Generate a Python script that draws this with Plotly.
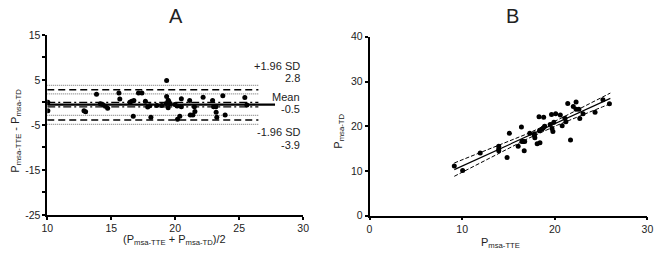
import numpy as np
import plotly.graph_objects as go

# ---------------- Data ----------------
# Panel A (Bland-Altman): mean of methods vs difference
mean_pairs = [10.05, 10.05, 12.87, 13.0, 13.85, 14.15, 14.33, 14.54, 14.72, 15.6,
              15.67, 16.46, 16.6, 16.77, 16.72, 17.13, 17.4, 17.67, 17.85, 18.02,
              18.1, 18.56, 18.95, 19.33, 19.33, 19.3, 19.45, 19.5, 19.6, 19.45,
              19.97, 20.15, 20.18, 20.36, 20.48, 20.48, 21.13, 21.18, 21.38, 21.54,
              21.5, 22.18, 22.92, 23.0, 23.18, 23.2, 23.25, 23.72, 23.9, 25.44, 25.6]
diff_pairs = [0.04, -1.87, -1.87, -2.1, 1.8, -0.32, -0.45, -0.87, -1.3, 2.1,
              0.74, 0.04, 0.25, 0.4, -3.1, 2.1, 2.1, 0.25, -1.0, -0.75,
              -3.3, -0.67, -0.67, 4.84, 1.3, -0.24, 0.5, 0.2, -0.3, -1.2,
              -0.45, -0.8, -3.76, -3.06, 0.82, -0.96, 0.45, -2.78, -2.78, -2.0,
              -0.96, 1.16, 0.45, -0.96, -0.96, -2.2, -3.3, 1.46, -2.78, 1.1, -0.6]

mean_diff = -0.5
upper_loa = 2.8
lower_loa = -3.9
mean_ci = [0.0, -1.0]
upper_loa_ci = [3.8, 1.9]
lower_loa_ci = [-2.9, -4.9]
ref_line_x = [10, 26.5]
mean_line_x = [10, 27.8]

# Panel B (correlation): TTE vs TD
p_tte = [9.15, 10.05, 11.95, 13.95, 13.95, 13.95, 14.85, 15.1, 16.05, 16.4,
         16.45, 16.6, 16.75, 16.7, 17.3, 17.8, 17.8, 17.85, 18.1, 18.4,
         18.3, 18.8, 18.35, 18.6, 18.75, 18.9, 19.65, 20.1, 19.5, 19.7,
         19.8, 19.9, 20.6, 20.8, 21.1, 21.2, 21.4, 21.7, 22.0, 22.3,
         22.3, 22.6, 22.7, 23.05, 24.35, 25.2, 25.9]
p_td = [11.1, 10.1, 14.0, 15.5, 14.9, 14.5, 13.0, 18.4, 15.5, 19.8,
        16.6, 16.6, 16.6, 14.5, 18.4, 18.3, 17.9, 17.4, 16.1, 16.3,
        22.1, 22.0, 19.0, 19.3, 19.6, 20.0, 22.6, 22.8, 20.4, 19.5,
        18.8, 20.9, 22.5, 20.1, 21.8, 21.0, 25.1, 16.9, 24.4, 25.4,
        23.8, 23.8, 21.7, 22.8, 23.1, 25.9, 25.0]

a_yticks = [15, 10, 5, 0, -5, -10, -15, -20, -25]
a_yticktext = ["15", "", "5", "", "-5", "", "-15", "", "-25"]
a_xticks = [10, 15, 20, 25, 30]
b_xticks = [0, 10, 20, 30]
b_yticks = [0, 10, 20, 30, 40]

# ---------------- Regression for panel B ----------------
xb = np.array(p_tte)
yb = np.array(p_td)
n = len(xb)
slope, intercept = np.polyfit(xb, yb, 1)
resid = yb - (slope * xb + intercept)
s = np.sqrt(np.sum(resid ** 2) / (n - 2))
sxx = np.sum((xb - xb.mean()) ** 2)
xfit = np.linspace(xb.min(), xb.max() + 0.1, 60)
yfit = slope * xfit + intercept
half = 2.01 * s * np.sqrt(1.0 / n + (xfit - xb.mean()) ** 2 / sxx)

FONT = "Liberation Sans, Arial, sans-serif"
fig = go.Figure()

def hline(y, x, dash, color="black", width=1.5, xa="x", ya="y"):
    fig.add_trace(go.Scatter(x=x, y=[y, y], mode="lines", xaxis=xa, yaxis=ya,
                             line=dict(color=color, width=width, dash=dash),
                             hoverinfo="skip", showlegend=False))

# Panel A lines
for v in upper_loa_ci + lower_loa_ci:
    hline(v, ref_line_x, "1px,1px", color="#8a8a8a", width=1.3)
for v in [upper_loa, lower_loa]:
    hline(v, ref_line_x, "7px,4px", width=1.6)
for v in mean_ci:
    hline(v, ref_line_x, "8px,3px,2px,3px", width=1.3)
hline(mean_diff, mean_line_x, "solid", width=2.2)

fig.add_trace(go.Scatter(x=mean_pairs, y=diff_pairs, mode="markers", xaxis="x", yaxis="y",
                         marker=dict(color="black", size=5), showlegend=False))

# Panel B lines and points
fig.add_trace(go.Scatter(x=xfit, y=yfit + half, mode="lines", xaxis="x2", yaxis="y2",
                         line=dict(color="black", width=1, dash="4px,2px"), showlegend=False))
fig.add_trace(go.Scatter(x=xfit, y=yfit - half, mode="lines", xaxis="x2", yaxis="y2",
                         line=dict(color="black", width=1, dash="4px,2px"), showlegend=False))
fig.add_trace(go.Scatter(x=xfit, y=yfit, mode="lines", xaxis="x2", yaxis="y2",
                         line=dict(color="black", width=1.2), showlegend=False))
fig.add_trace(go.Scatter(x=p_tte, y=p_td, mode="markers", xaxis="x2", yaxis="y2",
                         marker=dict(color="black", size=5), showlegend=False))

W, H = 658, 255
def px(xp):
    return xp / W
def py(yp):
    return 1 - yp / H

axis_common = dict(showgrid=False, zeroline=False, showline=True, linecolor="black",
                   linewidth=1.5, ticks="outside", ticklen=3, tickwidth=1.5, tickcolor="black",
                   tickfont=dict(family=FONT, size=10.5, color="#222"))

fig.update_layout(
    width=W, height=H, margin=dict(l=0, r=0, t=0, b=0),
    plot_bgcolor="white", paper_bgcolor="white", showlegend=False,
    xaxis=dict(domain=[px(42), px(302.7)], range=[10, 30], tickvals=a_xticks,
               anchor="y", **axis_common),
    yaxis=dict(domain=[py(219.3), py(30.3)], range=[-25, 15], tickvals=a_yticks,
               ticktext=a_yticktext, anchor="x", **axis_common),
    xaxis2=dict(domain=[px(370.3), px(653.3)], range=[0, 30], tickvals=b_xticks,
                anchor="y2", **axis_common),
    yaxis2=dict(domain=[py(220), py(32.3)], range=[0, 40], tickvals=b_yticks,
                anchor="x2", **axis_common),
)

ann = []
def text(x, y, t, size=11, xanchor="center", angle=0, color="#222"):
    ann.append(dict(x=px(x), y=py(y), xref="paper", yref="paper", text=t, showarrow=False,
                    xanchor=xanchor, yanchor="middle", textangle=angle,
                    font=dict(family=FONT, size=size, color=color)))

text(172.7, 10, "A", size=20)
text(516, 10, "B", size=20)
right = 301.7
text(right, 63, "+1.96 SD", xanchor="right")
text(right, 75.7, f"{upper_loa}", xanchor="right")
text(right, 96, "Mean", xanchor="right")
text(right, 107.7, f"{mean_diff}", xanchor="right")
text(right, 131.7, "-1.96 SD", xanchor="right")
text(right, 145.7, f"{lower_loa}", xanchor="right")

text(172, 245.5, "(P<sub>msa-TTE</sub> + P<sub>msa-TD</sub>)/2", size=11)
text(10, 131, "P<sub>msa-TTE</sub> - P<sub>msa-TD</sub>", size=11, angle=-90)
text(504, 249, "P<sub>msa-TTE</sub>", size=11)
text(339, 131, "P<sub>msa-TD</sub>", size=11, angle=-90)

fig.update_layout(annotations=ann)
fig.write_html(
    "out.html",
    config={"displayModeBar": False},
    post_script="document.body.style.margin='0px';document.body.style.overflow='hidden';"
                "document.documentElement.style.overflow='hidden';",
)
